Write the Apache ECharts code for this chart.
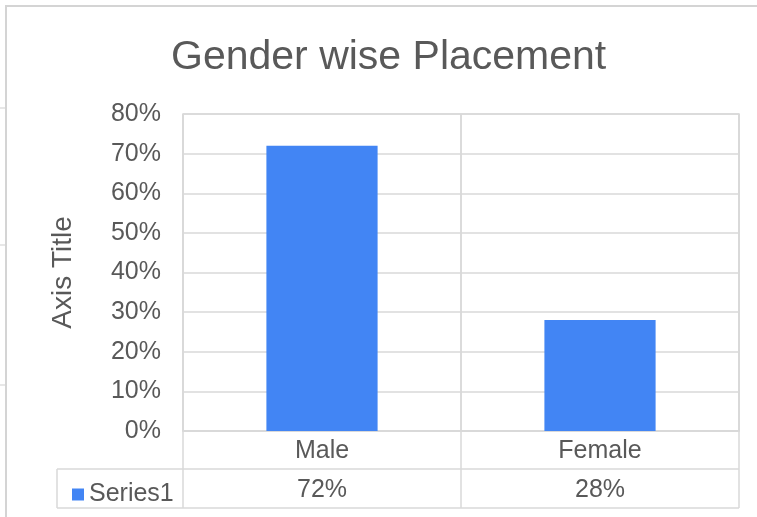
<!DOCTYPE html>
<html>
<head>
<meta charset="utf-8">
<script src="https://cdn.jsdelivr.net/npm/echarts@6/dist/echarts.min.js"></script>
<style>html,body{margin:0;padding:0;background:#fff}#c{width:757px;height:517px}</style>
</head>
<body>
<div id="c"></div>
<script>
const categories = ['Male', 'Female'];
const values = [0.72, 0.28];
const seriesName = 'Series1';
const yTicks = [0, 0.1, 0.2, 0.3, 0.4, 0.5, 0.6, 0.7, 0.8];
const titleText = 'Gender wise Placement';
const yAxisTitle = 'Axis Title';

const pct = v => Math.round(v * 100) + '%';
const valueLabels = values.map(pct);

const FONT = 'Liberation Sans, Arial, sans-serif';
const TXT = '#595959';
const LINE = '#d9d9d9';
const G = {left: 183, right: 739, top: 114, bottom: 431, row1: 469, row2: 508, tableLeft: 57};

const chart = echarts.init(document.getElementById('c'), null, {renderer: 'canvas'});

function hline(x1, x2, y) {
  return {type: 'line', silent: true, z: 5, shape: {x1, y1: y, x2, y2: y}, style: {stroke: LINE, lineWidth: 1.5}};
}
function vline(x, y1, y2) {
  return {type: 'line', silent: true, z: 5, shape: {x1: x, y1, x2: x, y2}, style: {stroke: LINE, lineWidth: 1.5}};
}

chart.setOption({
  animation: false,
  backgroundColor: '#fff',
  textStyle: {fontFamily: FONT},
  title: {
    text: titleText,
    left: 166, top: 32,
    textStyle: {fontFamily: FONT, fontSize: 41, fontWeight: 'normal', color: TXT}
  },
  legend: {
    data: [seriesName],
    left: 67, top: 477,
    icon: 'rect', itemWidth: 12, itemHeight: 12, itemGap: 4,
    textStyle: {fontFamily: FONT, fontSize: 25, color: TXT, padding: [0, 0, 0, 0]}
  },
  grid: {
    left: G.left, right: 757 - G.right, top: G.top, bottom: 517 - G.bottom,
    show: true, borderColor: LINE, borderWidth: 1.5
  },
  xAxis: [{
    type: 'category',
    data: categories,
    axisLine: {show: true, lineStyle: {color: LINE, width: 1.5}},
    axisTick: {show: false},
    splitLine: {show: true, lineStyle: {color: LINE, width: 1.5}},
    axisLabel: {fontFamily: FONT, fontSize: 25, color: TXT, margin: 8}
  }, {
    type: 'category',
    data: valueLabels,
    position: 'bottom',
    offset: 39,
    axisLine: {show: false},
    axisTick: {show: false},
    splitLine: {show: false},
    axisLabel: {fontFamily: FONT, fontSize: 25, color: TXT, margin: 8}
  }],
  yAxis: {
    type: 'value',
    min: yTicks[0], max: yTicks[yTicks.length - 1], interval: yTicks[1] - yTicks[0],
    axisLine: {show: false},
    axisTick: {show: false},
    splitLine: {lineStyle: {color: LINE, width: 1.5}},
    axisLabel: {fontFamily: FONT, fontSize: 25, color: TXT, margin: 22, formatter: pct},
    name: yAxisTitle,
    nameLocation: 'middle',
    nameGap: 106,
    nameRotate: 90,
    nameTextStyle: {fontFamily: FONT, fontSize: 28, color: TXT}
  },
  series: [{
    name: seriesName,
    type: 'bar',
    data: values,
    barWidth: '40%',
    itemStyle: {color: '#4285f4'}
  }],
  graphic: [
    {type: 'rect', silent: true, shape: {x: 6, y: 6, width: 800, height: 600}, style: {fill: 'none', stroke: '#d4d4d4', lineWidth: 2}},
    {type: 'line', silent: true, shape: {x1: 0, y1: 108, x2: 5, y2: 108}, style: {stroke: '#cfcfcf', lineWidth: 1}},
    {type: 'line', silent: true, shape: {x1: 0, y1: 245, x2: 5, y2: 245}, style: {stroke: '#cfcfcf', lineWidth: 1}},
    {type: 'line', silent: true, shape: {x1: 0, y1: 385, x2: 5, y2: 385}, style: {stroke: '#cfcfcf', lineWidth: 1}},
    vline(G.left, G.top, G.row2),
    vline((G.left + G.right) / 2, G.top, G.row2),
    vline(G.right, G.top, G.row2),
    vline(G.tableLeft, G.row1, G.row2),
    hline(G.tableLeft, G.right, G.row1),
    hline(G.tableLeft, G.right, G.row2)
  ]
});
</script>
</body>
</html>
